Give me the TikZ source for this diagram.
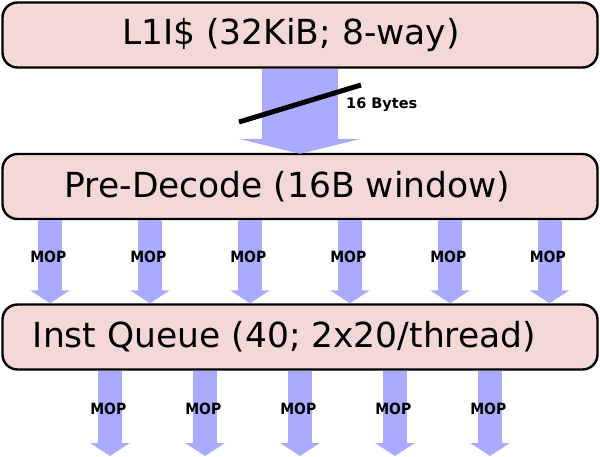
\documentclass[tikz,border=0pt]{standalone}
\usepackage{fontspec}
\setmainfont{DejaVu Sans}
\newfontfamily\condfont[FakeStretch=0.9]{DejaVu Sans}
\usetikzlibrary{arrows.meta}
\definecolor{boxfill}{HTML}{F4D7D7}
\definecolor{arrfill}{HTML}{AAAAFF}
\tikzset{
  unitbox/.style={draw=black, line width=2.4pt, fill=boxfill, rounded corners=15pt,
    minimum width=595pt, minimum height=65pt, inner sep=0pt},
  boxtext/.style={inner sep=0pt, font=\fontsize{34.5}{40}\selectfont},
  bigarrow/.style={draw=arrfill, line width=76pt, -{Triangle[width=122pt,length=15pt]}},
  moparrow/.style={draw=arrfill, line width=24pt, -{Triangle[width=39pt,length=13pt]}},
  lbl/.style={font=\condfont\fontsize{15.5}{17}\selectfont\bfseries, inner sep=0pt},
  bytelbl/.style={font=\fontsize{14.5}{16}\selectfont\bfseries, inner sep=0pt}
}
\begin{document}
\begin{tikzpicture}[x=1pt,y=-1pt]
\useasboundingbox (0,0) rectangle (600,456);
\node[unitbox] (l1) at (300,35) {};
\node[boxtext] (l1t) at (291,35) {L1I\$ (32KiB; 8-way)};
\node[unitbox] (pd) at (300,186.5) {};
\node[boxtext] (pdt) at (287.5,186.5) {Pre-Decode (16B window)};
\node[unitbox] (iq) at (300,337) {};
\node[boxtext] (iqt) at (284.5,337) {Inst Queue (40; 2x20/thread)};
% big arrow
\draw[bigarrow] (l1.south) -- ([yshift=-1pt]pd.north);
\draw[line width=5pt] (239,122) coordinate (s1) -- (361,85) coordinate (s2);
\node[bytelbl, anchor=west] (bytes) at (346,105) {16 Bytes};
% MOP arrows pre-decode -> inst queue
\foreach \x/\n in {50/a,150/b,250/c,350/d,450/e,549.5/f}{
  \coordinate (ts\n) at (\x,0);
  \draw[moparrow] (pd.south -| ts\n) -- (iq.north -| ts\n);
  \node[lbl] (m\n) at (\x-1.7,257) {MOP};
}
% MOP arrows out of inst queue
\foreach \x/\n in {110/a,205/b,300/c,395/d,490/e}{
  \coordinate (end\n) at (\x,456);
  \draw[moparrow] (iq.south -| end\n) -- (end\n);
  \node[lbl] (o\n) at (\x-1.7,409) {MOP};
}
\end{tikzpicture}
\end{document}
